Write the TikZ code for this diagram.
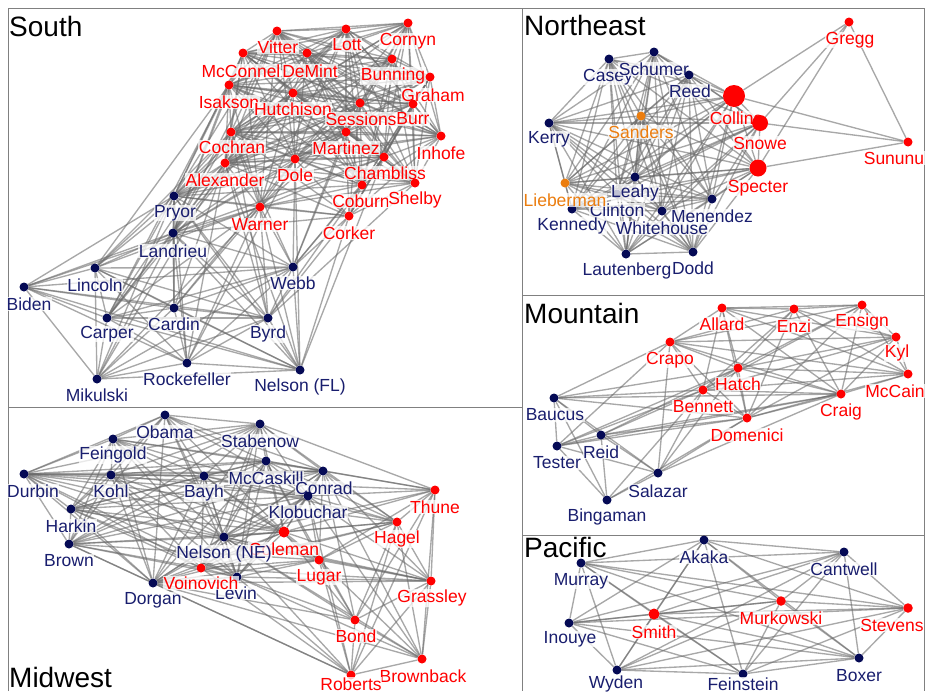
\documentclass[tikz,border=0pt]{standalone}
\usepackage{fontspec}
\setmainfont{Liberation Sans}

\definecolor{repdot}{RGB}{255,0,0}
\definecolor{replab}{RGB}{255,0,0}
\definecolor{demdot}{RGB}{5,10,85}
\definecolor{demlab}{RGB}{25,30,110}
\definecolor{inddot}{RGB}{235,125,15}
\definecolor{indlab}{RGB}{235,125,15}
\definecolor{linkgray}{RGB}{105,105,105}
\definecolor{framegray}{RGB}{128,128,128}

\pgfdeclarelayer{links}
\pgfsetlayers{links,main}

\newcommand\labfont{\fontsize{17.5}{19}\selectfont}
\newcommand\titlefont{\fontsize{28}{30}\selectfont}

% one senator: name, x, y, party, dot size, label shift, label text
\newcommand\sen[7]{%
  \node[sdot=#4, minimum size=#5pt] (#1) at (#2,#3) {};
  \node[slab=#4] (#1-l) at ([shift={(#6)}]#1.center) {#7};}

% every pair of a list
\newcommand\clique[1]{%
  \foreach \a [count=\i] in {#1}{%
    \foreach \b [count=\j] in {#1}{%
      \ifnum\j>\i\relax \draw[link] (\a) -- (\b);\fi}}}

% one node to each of a list
\newcommand\fan[2]{\foreach \b in {#2}{\draw[link] (#1) -- (\b);}}

\tikzset{
  sdot/.style={circle, inner sep=0pt, fill=#1dot},
  slab/.style={text=#1lab, font=\labfont, fill=white, fill opacity=0.75,
               text opacity=1, inner sep=0.5pt},
  link/.style={draw=linkgray, draw opacity=0.58, line width=1.35pt},
  frame/.style={draw=framegray, line width=1pt},
  paneltitle/.style={font=\titlefont, inner sep=0pt, anchor=base west}
}

\begin{document}
\begin{tikzpicture}[x=1pt, y=-1pt]
\useasboundingbox (0,0) rectangle (925,691);

% panel frames
\draw[frame] (8,691) -- (8,8) -- (924,8) -- (924,691);
\draw[frame] (522,8) -- (522,691);
\draw[frame] (8,407) -- (522,407);
\draw[frame] (522,295) -- (924,295);
\draw[frame] (522,535) -- (924,535);

\node[paneltitle] (tSouth) at (9,36) {South};
\node[paneltitle] (tNortheast) at (524,35) {Northeast};
\node[paneltitle] (tMountain) at (524,323) {Mountain};
\node[paneltitle] (tPacific) at (524,557) {Pacific};
\node[paneltitle] (tMidwest) at (9,687) {Midwest};

% ---------------- South
\sen{Vitter}{277}{31}{rep}{9}{1,16}{Vitter}
\sen{Lott}{346}{29}{rep}{9}{1,16}{Lott}
\sen{Cornyn}{408}{23}{rep}{9}{0,18}{Cornyn}
\sen{McConnell}{243}{53}{rep}{9}{-2,18}{McConnel}
\sen{DeMint}{307}{53}{rep}{9}{3,18}{DeMint}
\sen{Bunning}{392}{59}{rep}{9}{1,17}{Bunning}
\sen{Graham}{430}{77}{rep}{9}{3,18}{Graham}
\sen{Isakson}{229}{85}{rep}{9}{0,17}{Isakson}
\sen{Hutchison}{293}{93}{rep}{9}{0,16}{Hutchison}
\sen{Sessions}{360}{103}{rep}{9}{1,16}{Sessions}
\sen{Burr}{413}{104}{rep}{9}{0,15}{Burr}
\sen{Cochran}{231}{132}{rep}{9}{1,15}{Cochran}
\sen{Martinez}{346}{132}{rep}{9}{0,16}{Martinez}
\sen{Inhofe}{441}{136}{rep}{9}{0,17}{Inhofe}
\sen{Alexander}{225}{163}{rep}{9}{0,17}{Alexander}
\sen{Dole}{295}{159}{rep}{9}{0,16}{Dole}
\sen{Chambliss}{384}{157}{rep}{9}{1,16}{Chambliss}
\sen{Coburn}{362}{185}{rep}{9}{-1,16}{Coburn}
\sen{Shelby}{415}{183}{rep}{9}{0,17}{Shelby}
\sen{Warner}{260}{207}{rep}{9}{0,18}{Warner}
\sen{Corker}{349}{216}{rep}{9}{0,17}{Corker}
\sen{Pryor}{174}{196}{dem}{9}{1,17}{Pryor}
\sen{Landrieu}{173}{233}{dem}{9}{0,18}{Landrieu}
\sen{Lincoln}{95}{268}{dem}{9}{0,17}{Lincoln}
\sen{Biden}{24}{287}{dem}{9}{5,17}{Biden}
\sen{Carper}{107}{318}{dem}{9}{0,16}{Carper}
\sen{Cardin}{174}{308}{dem}{9}{0,16}{Cardin}
\sen{Rockefeller}{187}{363}{dem}{9}{0,16}{Rockefeller}
\sen{Mikulski}{97}{379}{dem}{9}{0,16}{Mikulski}
\sen{Webb}{293}{267}{dem}{9}{0,16}{Webb}
\sen{Byrd}{268}{318}{dem}{9}{0,16}{Byrd}
\sen{NelsonFL}{300}{370}{dem}{9}{0,17}{Nelson (FL)}

% ---------------- Northeast
\sen{Casey}{609}{59}{dem}{9}{-1,18}{Casey}
\sen{Schumer}{654}{52}{dem}{9}{0,17}{Schumer}
\sen{Reed}{689}{75}{dem}{9}{1,16}{Reed}
\sen{Kerry}{549}{123}{dem}{9}{0,16}{Kerry}
\sen{Sanders}{641}{116}{ind}{9}{0,16}{Sanders}
\sen{Kennedy}{572}{209}{dem}{9}{0,17}{Kennedy}
\sen{Clinton}{617}{194}{dem}{9}{0,16}{Clinton}
\sen{Lieberman}{565}{183}{ind}{9}{0,17}{Lieberman}
\sen{Leahy}{635}{177}{dem}{9}{0,16}{Leahy}
\sen{Whitehouse}{662}{211}{dem}{9}{0,17}{Whitehouse}
\sen{Menendez}{712}{199}{dem}{9}{0,17}{Menendez}
\sen{Lautenberg}{626}{254}{dem}{9}{1,17}{Lautenberg}
\sen{Dodd}{693}{252}{dem}{9}{0,16}{Dodd}
\sen{Collins}{734}{96}{rep}{22}{2,22}{Collins}
\sen{Snowe}{760}{123}{rep}{16}{0,20}{Snowe}
\sen{Specter}{758}{168}{rep}{17}{0,20}{Specter}
\sen{Gregg}{849}{22}{rep}{9}{1,18}{Gregg}
\sen{Sununu}{908}{142}{rep}{9}{-14,16}{Sununu}

% ---------------- Mountain
\sen{Allard}{722}{308}{rep}{9}{0,16}{Allard}
\sen{Enzi}{794}{309}{rep}{9}{0,17}{Enzi}
\sen{Ensign}{862}{305}{rep}{9}{0,17}{Ensign}
\sen{Kyl}{896}{337}{rep}{9}{1,16}{Kyl}
\sen{McCain}{908}{374}{rep}{9}{-13,17}{McCain}
\sen{Crapo}{670}{342}{rep}{9}{0,18}{Crapo}
\sen{Hatch}{738}{368}{rep}{9}{0,16}{Hatch}
\sen{Bennett}{703}{390}{rep}{9}{0,17}{Bennett}
\sen{Domenici}{747}{418}{rep}{9}{0,17}{Domenici}
\sen{Craig}{841}{394}{rep}{9}{0,18}{Craig}
\sen{Baucus}{554}{398}{dem}{9}{1,17}{Baucus}
\sen{Reid}{601}{435}{dem}{9}{0,17}{Reid}
\sen{Tester}{557}{446}{dem}{9}{0,17}{Tester}
\sen{Salazar}{658}{473}{dem}{9}{0,18}{Salazar}
\sen{Bingaman}{607}{500}{dem}{9}{0,17}{Bingaman}

% ---------------- Pacific
\sen{Akaka}{704}{540}{dem}{9}{0,17}{Akaka}
\sen{Murray}{581}{563}{dem}{9}{0,18}{Murray}
\sen{Cantwell}{844}{552}{dem}{9}{0,17}{Cantwell}
\sen{Smith}{654}{614}{rep}{11}{0,18}{Smith}
\sen{Murkowski}{781}{601}{rep}{9.5}{0,17}{Murkowski}
\sen{Stevens}{908}{608}{rep}{9.5}{-16,17}{Stevens}
\sen{Inouye}{569}{623}{dem}{9}{1,16}{Inouye}
\sen{Wyden}{617}{670}{dem}{9}{-1,14}{Wyden}
\sen{Feinstein}{743}{674}{dem}{9}{0,10}{Feinstein}
\sen{Boxer}{859}{658}{dem}{9}{0,18}{Boxer}

% ---------------- Midwest
\sen{Obama}{165}{415}{dem}{9}{0,17}{Obama}
\sen{Feingold}{113}{439}{dem}{9}{0,16}{Feingold}
\sen{Durbin}{24}{474}{dem}{9}{9,17}{Durbin}
\sen{Kohl}{111}{475}{dem}{9}{0,16}{Kohl}
\sen{Bayh}{204}{476}{dem}{9}{0,17}{Bayh}
\sen{Harkin}{71}{509}{dem}{9}{0,17}{Harkin}
\sen{Brown}{69}{544}{dem}{9}{0,17}{Brown}
\sen{Stabenow}{260}{424}{dem}{9}{0,17}{Stabenow}
\sen{McCaskill}{266}{461}{dem}{9}{0,17}{McCaskill}
\sen{Conrad}{323}{471}{dem}{9}{1,17}{Conrad}
\sen{Klobuchar}{308}{496}{dem}{9}{0,16}{Klobuchar}
\sen{Coleman}{284}{532}{rep}{11}{0,17}{Coleman}
\sen{NelsonNE}{224}{537}{dem}{9}{0,17}{Nelson (NE)}
\sen{Levin}{237}{577}{dem}{9}{-1,16}{Levin}
\sen{Voinovich}{201}{568}{rep}{9}{0,15}{Voinovich}
\sen{Dorgan}{153}{583}{dem}{9}{0,17}{Dorgan}
\sen{Thune}{435}{490}{rep}{9}{0,17}{Thune}
\sen{Hagel}{397}{522}{rep}{9}{0,17}{Hagel}
\sen{Lugar}{319}{560}{rep}{9}{0,17}{Lugar}
\sen{Grassley}{431}{581}{rep}{9}{1,17}{Grassley}
\sen{Bond}{355}{620}{rep}{9}{1,16}{Bond}
\sen{Brownback}{422}{659}{rep}{9}{1,17}{Brownback}
\sen{Roberts}{351}{675}{rep}{9}{0,9}{Roberts}

% ---------------- co-voting links, under everything else
\begin{pgfonlayer}{links}
% South
\clique{Vitter,Lott,Cornyn,McConnell,DeMint,Bunning,Graham,Isakson,Hutchison,Sessions,Burr,Cochran,Martinez,Inhofe,Alexander,Dole,Chambliss,Coburn,Shelby}
\clique{Pryor,Landrieu,Lincoln,Biden,Carper,Cardin,Rockefeller,Mikulski,Webb,Byrd,NelsonFL}
\fan{Warner}{Alexander,Cochran,Dole,Martinez,Chambliss,Coburn,Hutchison,Isakson,Sessions,Corker,Shelby,Vitter,McConnell,Lott,Pryor,Landrieu,Lincoln,Biden,Carper,Cardin,Rockefeller,Mikulski,Webb,Byrd,NelsonFL}
\fan{Corker}{Coburn,Shelby,Chambliss,Dole,Martinez,Alexander,Inhofe,Burr,Graham,Sessions,Cochran,Webb,Byrd,NelsonFL,Pryor,Landrieu}
\fan{Pryor}{Alexander,Cochran,Isakson,Dole,Martinez,Hutchison,McConnell,Vitter,Chambliss,Lott,Sessions,Coburn}
\fan{Landrieu}{Alexander,Cochran,Dole,Vitter,Hutchison,Isakson,Martinez,Sessions,McConnell,Chambliss}
\fan{Lincoln}{Alexander,Cochran,Isakson}
\fan{Carper}{Alexander,Cochran,Isakson,Hutchison}
\fan{Cardin}{Dole,Alexander}
\fan{Webb}{Dole,Chambliss,Coburn,Martinez,Cochran,Sessions}
\fan{Byrd}{Shelby,Coburn,Alexander,Cochran}
\fan{NelsonFL}{Dole,Alexander,Chambliss}
\fan{Rockefeller}{Dole,Cochran}
\fan{Mikulski}{Alexander}
% Midwest
\clique{Obama,Feingold,Durbin,Kohl,Bayh,Harkin,Brown,Stabenow,McCaskill,Conrad,Klobuchar,NelsonNE,Dorgan,Levin}
\clique{Thune,Hagel,Grassley,Bond,Brownback,Roberts}
\fan{Lugar}{Hagel,Grassley,Bond,Roberts,Brownback,Thune,Coleman,Voinovich,NelsonNE,Levin,Klobuchar,Conrad,Bayh,Dorgan,Brown,McCaskill}
\fan{Coleman}{Hagel,Thune,Grassley,Voinovich,Bond,NelsonNE,Klobuchar,Conrad,McCaskill,Bayh,Kohl,Durbin,Levin,Dorgan,Stabenow,Obama,Feingold,Harkin,Brown}
\fan{Voinovich}{Hagel,Grassley,Roberts,NelsonNE,Levin,Dorgan,Bayh,Brown,Harkin,Durbin,Kohl,Stabenow,McCaskill,Klobuchar}
\fan{Hagel}{Conrad,Klobuchar,NelsonNE,McCaskill,Stabenow,Bayh,Durbin,Dorgan}
\fan{Thune}{Conrad,Durbin,Klobuchar,NelsonNE,McCaskill,Stabenow}
\fan{Grassley}{Harkin,NelsonNE,Conrad,Klobuchar,Dorgan,Levin}
\fan{Bond}{McCaskill,NelsonNE,Dorgan,Levin,Conrad}
\fan{Roberts}{Dorgan,Levin,NelsonNE,Brown,Klobuchar}
\fan{Brownback}{Dorgan,NelsonNE,Levin,Klobuchar,Conrad}
% Northeast
\clique{Casey,Schumer,Reed,Kerry,Leahy,Clinton,Kennedy,Whitehouse,Menendez,Lautenberg,Dodd,Sanders,Lieberman}
\clique{Collins,Snowe,Specter}
\foreach \who in {Collins,Snowe,Specter}{%
  \fan{\who}{Casey,Schumer,Reed,Kerry,Leahy,Clinton,Kennedy,Whitehouse,Menendez,Lautenberg,Dodd,Sanders,Lieberman}}
\fan{Gregg}{Collins,Snowe,Specter,Sununu}
\fan{Sununu}{Collins,Snowe,Specter}
% Mountain
\clique{Allard,Enzi,Ensign,Kyl,McCain,Crapo,Hatch,Bennett,Domenici,Craig}
\clique{Baucus,Reid,Tester,Salazar,Bingaman}
\fan{Baucus}{Crapo,Hatch,Bennett,Craig,Domenici}
\fan{Tester}{Crapo,Bennett,Hatch,Domenici,Craig}
\fan{Reid}{Bennett,Domenici,Craig,Hatch}
\fan{Salazar}{Bennett,Hatch,Domenici,Craig,Crapo}
\fan{Bingaman}{Domenici,Bennett}
% Pacific
\clique{Akaka,Murray,Cantwell,Smith,Murkowski,Stevens,Inouye,Wyden,Feinstein,Boxer}
\end{pgfonlayer}
\end{tikzpicture}
\end{document}
